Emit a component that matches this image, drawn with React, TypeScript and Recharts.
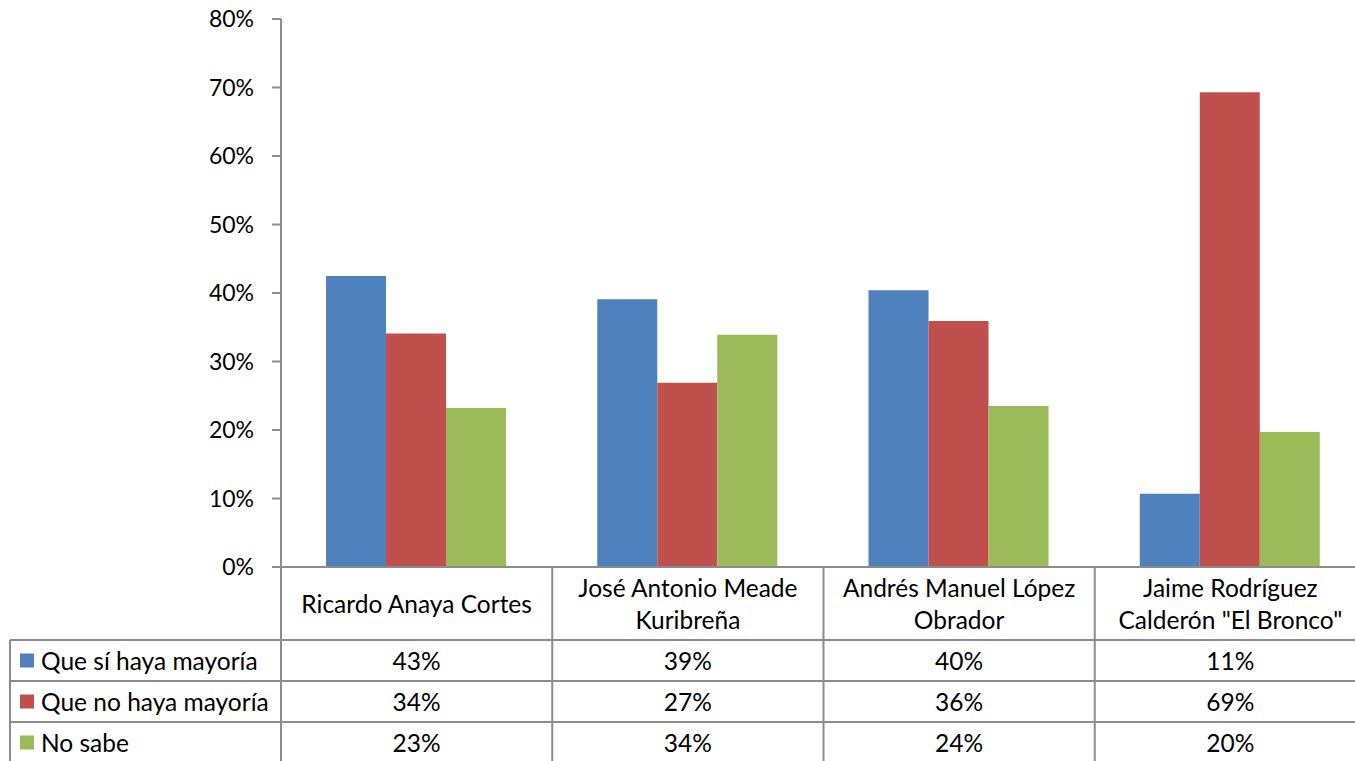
import React from 'react'
import { BarChart, Bar, XAxis, YAxis } from 'recharts'

// candidates and series
const CATEGORIES = [
  'Ricardo Anaya Cortes',
  'José Antonio Meade Kuribreña',
  'Andrés Manuel López Obrador',
  'Jaime Rodríguez Calderón "El Bronco"',
]
const SI_MAYORIA = [42.5, 39.1, 40.4, 10.7]
const NO_MAYORIA = [34.1, 26.9, 35.9, 69.3]
const NO_SABE = [23.2, 33.9, 23.5, 19.7]
const SERIES_NAMES = ['Que sí haya mayoría', 'Que no haya mayoría', 'No sabe']
const Y_TICKS = [0, 10, 20, 30, 40, 50, 60, 70, 80]

const SERIES_VALUES = [SI_MAYORIA, NO_MAYORIA, NO_SABE]
const KEYS = ['si', 'no', 'ns']
const COLORS = ['#4F81BD', '#C0504D', '#9BBB59']
const LINE = '#8c8c8c'
const FONT_SIZE = 23
const TABLE_FONT = 24.5

const WIDTH = 1380
const HEIGHT = 761
const MARGIN = { top: 19, right: 14, bottom: 0, left: 0 }
const Y_AXIS_WIDTH = 281
const BAND = (WIDTH - MARGIN.right - Y_AXIS_WIDTH) / CATEGORIES.length

// table rows, offsets below the x axis
const HEADER_H = 73
const ROW_H = 41

const data = CATEGORIES.map((name, i) => ({
  name,
  si: SI_MAYORIA[i],
  no: NO_MAYORIA[i],
  ns: NO_SABE[i],
}))

function wrap(label: string, max = 20) {
  const lines: string[] = []
  let cur = ''
  for (const w of label.split(' ')) {
    if (cur && (cur + ' ' + w).length > max) {
      lines.push(cur)
      cur = w
    } else {
      cur = cur ? cur + ' ' + w : w
    }
  }
  if (cur) lines.push(cur)
  return lines
}

function LegendColumn({ top, right }: { top: number; right: number }) {
  return (
    <g>
      <line x1={10} y1={top + HEADER_H} x2={10} y2={top + 220} stroke={LINE} strokeWidth={2} />
      {SERIES_NAMES.map((name, s) => {
        const rowTop = top + HEADER_H + ROW_H * s
        const cy = rowTop + ROW_H / 2
        return (
          <g key={name}>
            <line x1={10} y1={rowTop} x2={right} y2={rowTop} stroke={LINE} strokeWidth={2} />
            <rect x={20} y={cy - 7} width={14} height={14} fill={COLORS[s]} />
            <text x={41} y={cy} dominantBaseline="central" fontSize={TABLE_FONT} fill="#000">
              {name}
            </text>
          </g>
        )
      })}
    </g>
  )
}

function TableTick(props: any) {
  const { x, y, payload } = props
  const idx = CATEGORIES.indexOf(payload.value)
  const left = x - BAND / 2
  const lines = wrap(payload.value)
  const headerY = lines.length === 1 ? [36] : [20, 52]
  return (
    <g>
      {idx === 0 && <LegendColumn top={y} right={left} />}
      <line x1={left} y1={y} x2={left} y2={y + 220} stroke={LINE} strokeWidth={2} />
      {idx === CATEGORIES.length - 1 && (
        <line x1={left + BAND} y1={y} x2={left + BAND} y2={y + 220} stroke={LINE} strokeWidth={2} />
      )}
      {lines.map((l, i) => (
        <text key={i} x={x} y={y + headerY[i]} textAnchor="middle" dominantBaseline="central" fontSize={TABLE_FONT} fill="#000">
          {l}
        </text>
      ))}
      {SERIES_VALUES.map((vals, s) => {
        const rowTop = y + HEADER_H + ROW_H * s
        return (
          <g key={s}>
            <line x1={left} y1={rowTop} x2={left + BAND} y2={rowTop} stroke={LINE} strokeWidth={2} />
            <text x={x} y={rowTop + ROW_H / 2} textAnchor="middle" dominantBaseline="central" fontSize={TABLE_FONT} fill="#000">
              {Math.round(vals[idx])}%
            </text>
          </g>
        )
      })}
    </g>
  )
}

export default function App() {
  return (
    <div style={{ position: 'absolute', left: 0, top: 0, width: 1355, height: 761, overflow: 'hidden', background: '#fff' }}>
      <BarChart
        width={WIDTH}
        height={HEIGHT}
        data={data}
        margin={MARGIN}
        barCategoryGap="16.6%"
        barGap={0}
        style={{ fontFamily: 'Lato' }}
      >
        <XAxis
          dataKey="name"
          height={HEIGHT - MARGIN.top - 548}
          interval={0}
          tickLine={false}
          tickSize={0}
          tickMargin={0}
          axisLine={{ stroke: LINE, strokeWidth: 2 }}
          tick={<TableTick />}
        />
        <YAxis
          width={Y_AXIS_WIDTH}
          domain={[0, 80]}
          ticks={Y_TICKS}
          interval={0}
          tickFormatter={(v) => `${v}%`}
          tickSize={9}
          tickMargin={18}
          axisLine={{ stroke: LINE, strokeWidth: 2 }}
          tickLine={{ stroke: LINE, strokeWidth: 2 }}
          tick={{ fill: '#000', fontSize: FONT_SIZE }}
        />
        {KEYS.map((k, s) => (
          <Bar key={k} dataKey={k} name={SERIES_NAMES[s]} fill={COLORS[s]} isAnimationActive={false} />
        ))}
      </BarChart>
    </div>
  )
}
